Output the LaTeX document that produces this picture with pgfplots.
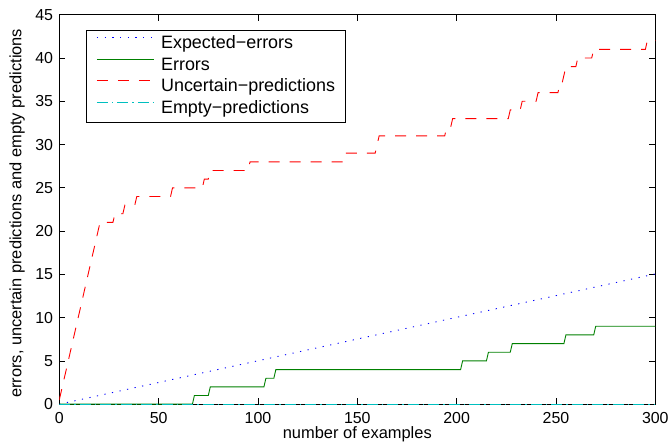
\documentclass[border=0pt]{standalone}
\usepackage{fontspec}
\setmainfont{Liberation Sans}
\usepackage{pgfplots}
\pgfplotsset{compat=1.18}

\definecolor{mblue}{rgb}{0,0,1}
\definecolor{mgreen}{rgb}{0,0.5,0}
\definecolor{mred}{rgb}{1,0,0}
\definecolor{mcyan}{rgb}{0,0.75,0.75}

\begin{document}
\begin{tikzpicture}
\begin{axis}[
    scale only axis,
    width=596bp, height=389.5bp,
    xmin=0, xmax=300, ymin=0, ymax=45,
    xtick={0,50,...,300}, ytick={0,5,...,45},
    tick align=inside,
    major tick length=6bp,
    axis line style={line width=1bp},
    every tick/.style={black, line width=0.8bp},
    /pgf/number format/assume math mode=true,
    tick label style={font=\fontsize{16}{16}\selectfont, inner sep=0pt},
    xticklabel style={anchor=north, yshift=-7.5bp},
    yticklabel style={anchor=east, xshift=-6bp},
    xlabel={number of examples},
    ylabel={errors, uncertain predictions and empty predictions},
    label style={font=\fontsize{16.5}{16.5}\selectfont, inner sep=0pt},
    xlabel style={at={(axis description cs:0.5,-0.0868)}, anchor=base},
    ylabel style={at={(axis description cs:-0.0576,0.49)}, anchor=south},
    legend style={at={(axis description cs:0.0448,0.9607)}, anchor=north west,
        draw=black, line width=1bp, inner xsep=10bp, inner ysep=5bp,
        font=\fontsize{18}{18}\selectfont, row sep=4.9bp, column sep=6.7bp,
        nodes={inner sep=0pt, text height=13bp, text depth=3.8bp}},
    legend cell align=left,
    legend image code/.code={\draw[#1] (0bp,6.4bp) -- (57bp,6.4bp);},
]
% expected errors
\addplot[mblue, line width=0.9bp, dash pattern=on 1.2bp off 6.5bp] coordinates {
    (0,0) (300,15.05)
};
\addlegendentry{Expected−errors}
% errors
\addplot[mgreen, line width=0.9bp] coordinates {
    (0,0) (67,0) (68,1) (75,1) (76,2) (103,2) (104,3) (108,3) (109,4)
    (202,4) (203,5) (215,5) (216,6) (227,6) (228,7) (254,7) (255,8)
    (269,8) (270,9) (300,9)
};
\addlegendentry{Errors}
% uncertain predictions
\addplot[mred, line width=0.9bp, dash pattern=on 11bp off 10bp] coordinates {
    (0,0.5) (20.5,21) (27,21) (28,22) (32,22) (33,23) (38,23) (39,24)
    (56,24) (57,25) (72,25) (73,26) (75,26) (76,27) (95,27) (96,28)
    (143,28) (144,29) (159,29) (160,30) (161,31) (194,31) (195,32)
    (197,32) (198,33) (226,33) (227,34) (232,34) (233,35) (240,35)
    (241,36) (251,36) (252,37) (253,37) (254,38) (255,39) (260,39)
    (261,40) (268,40) (269,41) (295,41) (296,42) (300,42)
};
\addlegendentry{Uncertain−predictions}
% empty predictions
\addplot[mcyan, line width=0.9bp, dash pattern=on 11bp off 4bp on 1.5bp off 4bp] coordinates {
    (0,0) (300,0)
};
\addlegendentry{Empty−predictions}
\end{axis}
\pgfresetboundingbox
\path ([shift={(-59.3bp,-40.3bp)}]current axis.south west)
    rectangle ([shift={(15.7bp,14.7bp)}]current axis.north east);
\end{tikzpicture}
\end{document}
